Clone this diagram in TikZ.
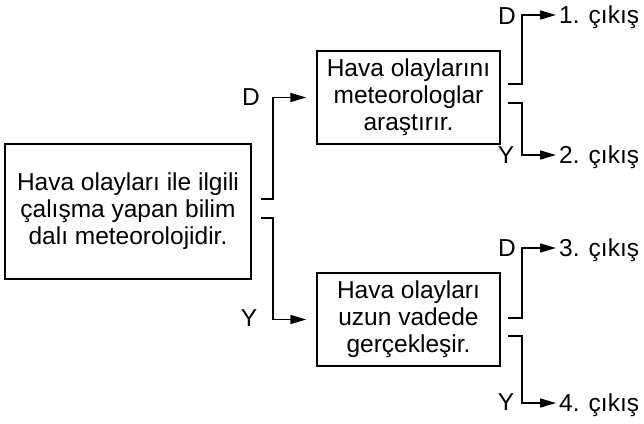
\documentclass[tikz,border=0pt]{standalone}
\usepackage{fontspec}
\setmainfont{Liberation Sans}
\usetikzlibrary{arrows.meta}
\usetikzlibrary{positioning}
\usetikzlibrary{calc}

\begin{document}
\begin{tikzpicture}[x=1pt,y=-1pt]
		\tikzset{box/.style = {shape=rectangle,draw,line width=1.4pt,align=center,inner sep=0pt,font=\fontsize{24.5}{27}\selectfont}}
		\tikzset{lbl/.style = {inner sep=0pt,font=\fontsize{24.5}{27}\selectfont}}
		\tikzset{exit/.style = {anchor=west,inner sep=0pt,text height=17.5pt,text depth=0pt,font=\fontsize{24.5}{27}\selectfont}}
		\tikzset{edge/.style = {line width=1.4pt,-{Triangle[length=16pt,width=9pt]}}}
		\useasboundingbox (0,0) rectangle (644,423);
		% vertices
		\node[box, minimum width=246pt, minimum height=135pt] (main) at (128,211.5) {Hava olayları ile ilgili\\çalışma yapan bilim\\dalı meteorolojidir.};
		\node[box, minimum width=183pt, minimum height=93pt] (ask) at (408.5,97.5) {Hava olaylarını\\meteorologlar\\araştırır.};
		\node[box, minimum width=183pt, minimum height=93pt] (long) at (408.5,319.5) {Hava olayları\\uzun vadede\\gerçekleşir.};
		
		\node[exit] (out1) at (559,15) {1. çıkış};
		\node[exit] (out2) at (559,155) {2. çıkış};
		\node[exit] (out3) at (559,248) {3. çıkış};
		\node[exit] (out4) at (559,403) {4. çıkış};
		
		% labels
		\node[lbl] (d0) at (251,97) {D};
		\node[lbl] (y0) at (249,318) {Y};
		\node[lbl] (d1) at (507,16) {D};
		\node[lbl] (y1) at (506,155) {Y};
		\node[lbl] (d2) at (507,248) {D};
		\node[lbl] (y2) at (506,402) {Y};
		
		% stub ends
		\coordinate (m1) at (261,199);
		\coordinate (m2) at (261,218);
		\coordinate (a1) at (508,84);
		\coordinate (a2) at (508,103);
		\coordinate (l1) at (508,318);
		\coordinate (l2) at (508,336);
		
		%edges
		\draw[edge, shorten >=10pt] (m1) -- ++(12,0) |- (ask);
		\draw[edge, shorten >=10pt] (m2) -- ++(12,0) |- (long);
		
		\draw[edge, shorten >=3pt] (a1) -- ++(14,0) |- (out1);
		\draw[edge, shorten >=3pt] (a2) -- ++(14,0) |- (out2);
		
		\draw[edge, shorten >=3pt] (l1) -- ++(14,0) |- (out3);
		\draw[edge, shorten >=3pt] (l2) -- ++(14,0) |- (out4);
		
\end{tikzpicture}
\end{document}
